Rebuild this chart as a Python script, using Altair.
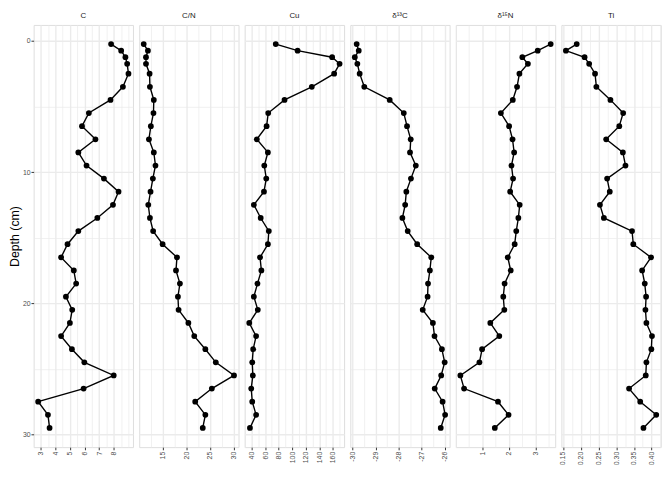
import altair as alt
import pandas as pd

depth = [0.25, 0.75, 1.25, 1.75, 2.5, 3.5, 4.5, 5.5, 6.5, 7.5, 8.5, 9.5, 10.5, 11.5, 12.5,
         13.5, 14.5, 15.5, 16.5, 17.5, 18.5, 19.5, 20.5, 21.5, 22.5, 23.5, 24.5, 25.5,
         26.5, 27.5, 28.5, 29.5]

c_vals = [7.81, 8.50, 8.79, 8.91, 9.00, 8.62, 7.77, 6.29, 5.82, 6.74, 5.57, 6.13, 7.32,
          8.32, 7.94, 6.87, 5.57, 4.83, 4.39, 5.26, 5.42, 4.72, 5.15, 4.99, 4.39, 5.13,
          5.98, 7.99, 5.93, 2.82, 3.49, 3.60]
cn_vals = [11.01, 11.90, 11.49, 11.49, 12.25, 12.32, 13.14, 13.07, 12.52, 12.11, 13.14,
           13.49, 12.94, 12.45, 11.97, 12.32, 13.00, 15.00, 18.03, 17.82, 18.65, 18.23,
           18.37, 20.44, 21.68, 24.02, 26.22, 30.07, 25.39, 21.88, 24.02, 23.47]
cu_vals = [75.7, 108.0, 159.0, 170.0, 162.0, 129.0, 88.7, 64.6, 62.2, 47.7, 64.1, 58.8,
           61.7, 58.3, 43.4, 53.5, 65.5, 64.1, 52.5, 54.5, 48.7, 43.4, 49.2, 36.6, 46.7,
           42.4, 41.0, 41.9, 39.5, 41.0, 46.7, 37.6]
d13c_vals = [-29.82, -29.73, -29.90, -29.79, -29.69, -29.49, -28.39, -27.78, -27.64,
             -27.48, -27.51, -27.26, -27.47, -27.67, -27.72, -27.84, -27.61, -27.20,
             -26.59, -26.65, -26.73, -26.75, -26.96, -26.52, -26.45, -26.13, -26.01,
             -26.16, -26.44, -26.10, -25.99, -26.18]
d15n_vals = [3.58, 3.09, 2.51, 2.72, 2.40, 2.31, 2.15, 1.70, 2.01, 2.14, 2.20, 2.10, 2.16,
             2.05, 2.41, 2.36, 2.28, 2.22, 1.96, 2.07, 1.84, 1.79, 1.83, 1.30, 1.64, 0.99,
             0.89, 0.17, 0.31, 1.59, 1.99, 1.47]
ti_vals = [0.1887, 0.1583, 0.2109, 0.2238, 0.2404, 0.2441, 0.2838, 0.3197, 0.3087,
           0.2718, 0.3188, 0.3262, 0.2745, 0.2819, 0.2542, 0.2653, 0.3447, 0.3483,
           0.3982, 0.3732, 0.3806, 0.3843, 0.3825, 0.3852, 0.4009, 0.3991, 0.3852,
           0.3834, 0.3363, 0.3677, 0.4129, 0.3769]

panel_names = ["C", "C/N", "Cu", "\u03b4\u00b9\u00b3C", "\u03b4\u00b9\u2075N", "Ti"]
panel_values = [c_vals, cn_vals, cu_vals, d13c_vals, d15n_vals, ti_vals]
major_ticks = [
    [3, 4, 5, 6, 7, 8],
    [15, 20, 25, 30],
    [40, 60, 80, 100, 120, 140, 160],
    [-30, -29, -28, -27, -26],
    [1, 2, 3],
    [0.15, 0.2, 0.25, 0.3, 0.35, 0.4],
]
minor_ticks = [
    [2.5, 3.5, 4.5, 5.5, 6.5, 7.5, 8.5, 9],
    [12.5, 17.5, 22.5, 27.5],
    [30, 50, 70, 90, 110, 130, 150, 170],
    [-29.5, -28.5, -27.5, -26.5],
    [0, 0.5, 1.5, 2.5, 3.5],
    [0.175, 0.225, 0.275, 0.325, 0.375, 0.425],
]
tick_formats = ["d", "d", "d", "d", "d", ".2f"]

y_major = [0, 10, 20, 30]
y_minor = [5, 15, 25]

FONT = "Liberation Sans"
GRID = "#ebebeb"

rows = []
for name, vals in zip(panel_names, panel_values):
    for d, v in zip(depth, vals):
        rows.append({"panel": name, "depth": d, "value": v})
df = pd.DataFrame(rows)

dmin, dmax = min(depth), max(depth)
dpad = (dmax - dmin) * 0.05
y_scale = alt.Scale(domain=[dmin - dpad, dmax + dpad], reverse=True, nice=False, zero=False)

y_test = f"indexof({y_major}, datum.value) >= 0"


def y_axis(first):
    common = dict(
        values=sorted(y_major + y_minor),
        grid=True,
        gridColor=GRID,
        gridWidth={"condition": {"test": y_test, "value": 1.4}, "value": 0.7},
        domain=False,
    )
    if first:
        return alt.Axis(
            title="Depth (cm)",
            titleFont=FONT,
            titleFontSize=12.5,
            titleFontWeight="normal",
            titleColor="#000000",
            titlePadding=1,
            labelExpr=f"{y_test} ? datum.label : ''",
            labelFont=FONT,
            labelFontSize=7,
            labelColor="#4d4d4d",
            labelPadding=0.8,
            tickSize=2.7,
            tickColor="#333333",
            tickOpacity={"condition": {"test": y_test, "value": 1}, "value": 0},
            **common,
        )
    return alt.Axis(title=None, labels=False, ticks=False, **common)


charts = []
for i, (name, vals) in enumerate(zip(panel_names, panel_values)):
    lo, hi = min(vals), max(vals)
    pad = (hi - lo) * 0.05
    majors = major_ticks[i]
    test = f"indexof({majors}, datum.value) >= 0"
    x_axis = alt.Axis(
        title=None,
        values=sorted(majors + minor_ticks[i]),
        labelExpr=f"{test} ? replace(format(datum.value, '{tick_formats[i]}'), '\u2212', '-') : ''",
        labelAngle=-90,
        labelFont=FONT,
        labelFontSize=7,
        labelColor="#4d4d4d",
        labelPadding=1.5,
        labelFlush=False,
        labelOverlap=False,
        tickSize=2.7,
        tickColor="#333333",
        tickOpacity={"condition": {"test": test, "value": 1}, "value": 0},
        grid=True,
        gridColor=GRID,
        gridWidth={"condition": {"test": test, "value": 1.4}, "value": 0.7},
        domain=False,
    )
    x_enc = alt.X("value:Q", scale=alt.Scale(domain=[lo - pad, hi + pad], nice=False, zero=False),
                  axis=x_axis)
    y_enc = alt.Y("depth:Q", scale=y_scale, axis=y_axis(i == 0))
    base = alt.Chart(df[df["panel"] == name])
    line = base.mark_line(color="black", strokeWidth=1.4).encode(
        x=x_enc, y=y_enc, order=alt.Order("depth:Q")
    )
    pts = base.mark_circle(color="black", opacity=1, size=34).encode(x=x_enc, y=y_enc)
    ch = alt.layer(line, pts).properties(
        width=100.7,
        height=428,
        title=alt.TitleParams(
            text=name,
            font=FONT,
            fontSize=8,
            fontWeight="normal",
            color="#1a1a1a",
            anchor="middle",
            baseline="alphabetic",
            offset=-1.3,
        ),
    )
    charts.append(ch)

chart = alt.hconcat(*charts, spacing=6, bounds="flush").properties(
    padding={"left": 0, "top": 0, "right": 0, "bottom": 0}
).configure_view(stroke="#7a7a7a", strokeWidth=1).configure(background="white")

chart.save("out.html", embed_options={"renderer": "svg", "actions": False})
